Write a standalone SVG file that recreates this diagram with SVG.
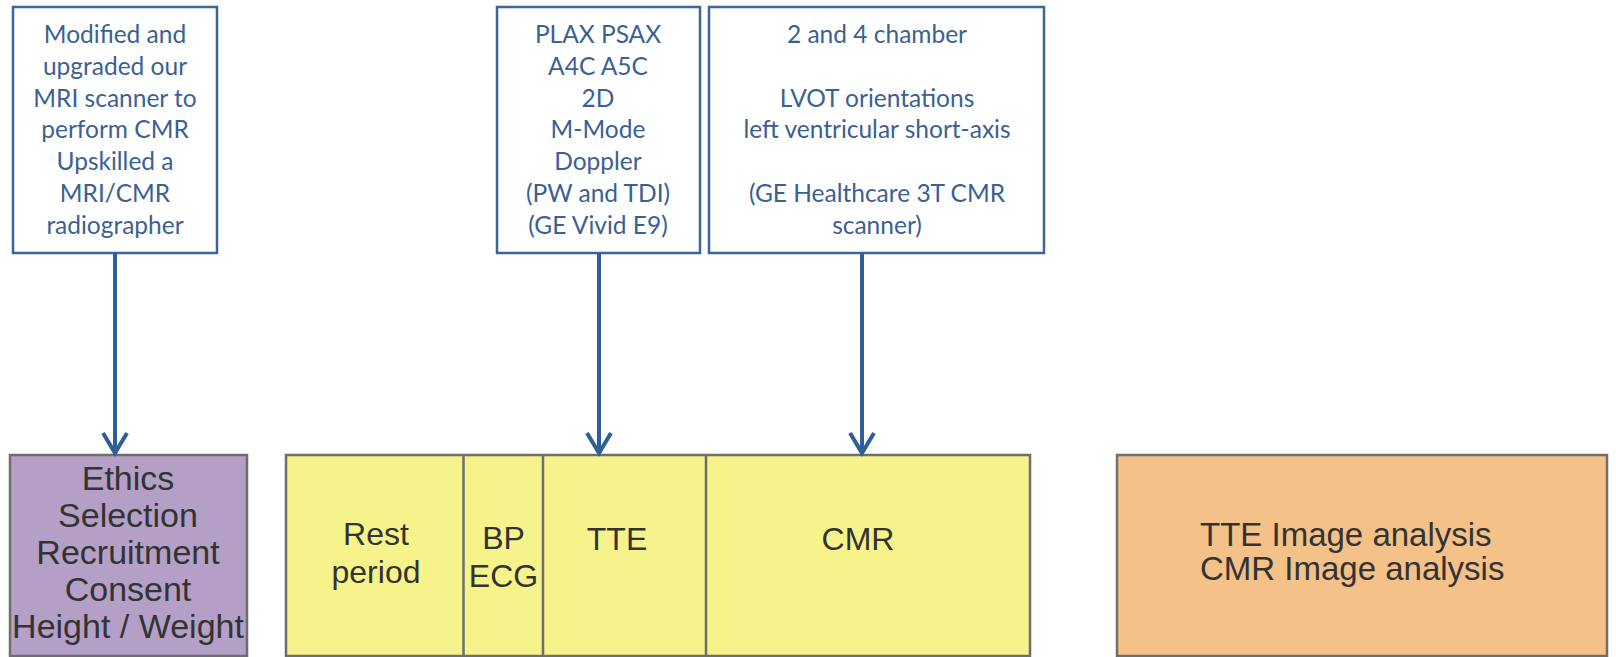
<svg xmlns="http://www.w3.org/2000/svg" width="1616" height="657" viewBox="0 0 1616 657">
<style>
.top{fill:#fff;stroke:#3d6597;stroke-width:2.5}
.tt{font-family:Lato,"Open Sans",sans-serif;font-size:24.5px;fill:#3a6194;text-anchor:middle}
.lb{stroke:#6e6e6e;stroke-width:2.5}
.bt{font-family:"Liberation Sans",Arial,sans-serif;font-size:32px;fill:#333;text-anchor:middle}
.big{font-size:34px}
.arr{stroke:#2f5f96;stroke-width:4;fill:none}
</style>
<rect width="1616" height="657" fill="#fff"/>
<g id="note-setup">
<rect class="top" x="13" y="7" width="204" height="246"/>
<text class="tt"><tspan x="115" y="43">Modified and</tspan><tspan x="115" y="75">upgraded our</tspan><tspan x="115" y="107">MRI scanner to</tspan><tspan x="115" y="138">perform CMR</tspan><tspan x="115" y="170">Upskilled a</tspan><tspan x="115" y="202">MRI/CMR</tspan><tspan x="115" y="234">radiographer</tspan></text>
</g>
<g id="note-tte">
<rect class="top" x="497" y="7" width="203" height="246"/>
<text class="tt"><tspan x="598" y="43">PLAX PSAX</tspan><tspan x="598" y="75">A4C A5C</tspan><tspan x="598" y="107">2D</tspan><tspan x="598" y="138">M-Mode</tspan><tspan x="598" y="170">Doppler</tspan><tspan x="598" y="202">(PW and TDI)</tspan><tspan x="598" y="234">(GE Vivid E9)</tspan></text>
</g>
<g id="note-cmr">
<rect class="top" x="709" y="7" width="335" height="246"/>
<text class="tt"><tspan x="877" y="43">2 and 4 chamber</tspan><tspan x="877" y="107">LVOT orientations</tspan><tspan x="877" y="138">left ventricular short-axis</tspan><tspan x="877" y="202">(GE Healthcare 3T CMR</tspan><tspan x="877" y="234">scanner)</tspan></text>
</g>
<g id="prep">
<rect class="lb" x="10" y="455" width="237" height="201" fill="#b49fc7"/>
<text class="bt big"><tspan x="128" y="490">Ethics</tspan><tspan x="128" y="527">Selection</tspan><tspan x="128" y="564">Recruitment</tspan><tspan x="128" y="601">Consent</tspan><tspan x="128" y="638">Height / Weight</tspan></text>
</g>
<g id="session">
<rect class="lb" x="286" y="455" width="744" height="201" fill="#f5f38a"/>
<line class="lb" x1="463.5" y1="455" x2="463.5" y2="656"/>
<line class="lb" x1="543" y1="455" x2="543" y2="656"/>
<line class="lb" x1="706" y1="455" x2="706" y2="656"/>
<text class="bt"><tspan x="376" y="545">Rest</tspan><tspan x="376" y="583">period</tspan></text>
<text class="bt"><tspan x="503.5" y="549">BP</tspan><tspan x="503.5" y="587">ECG</tspan></text>
<text class="bt" x="617" y="550">TTE</text>
<text class="bt" x="858" y="550">CMR</text>
</g>
<g id="analysis">
<rect class="lb" x="1117" y="455" width="490" height="201" fill="#f4c189"/>
<text class="bt" style="text-anchor:start;font-size:33px"><tspan x="1200" y="546">TTE Image analysis</tspan><tspan x="1200" y="580">CMR Image analysis</tspan></text>
</g>
<g id="connectors">
<path class="arr" d="M115 253V453M103 433L115 453L127 433"/>
<path class="arr" d="M599 253V453M587 433L599 453L611 433"/>
<path class="arr" d="M862 253V453M850 433L862 453L874 433"/>
</g>
</svg>
